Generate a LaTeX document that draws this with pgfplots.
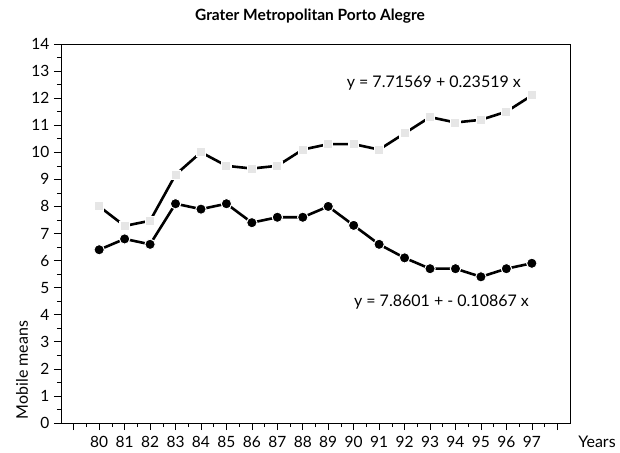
\documentclass[border=0pt]{standalone}
\usepackage{pgfplots}
\pgfplotsset{compat=1.18}
\usepackage{fontspec}
\setmainfont{Lato}
\definecolor{sq}{HTML}{E6E6E6}
\begin{document}
\fontsize{16}{19}\selectfont
\begin{tikzpicture}
\begin{axis}[name=ax,
  scale only axis, width=509pt, height=379pt,
  at={(0,0)}, anchor=south west,
  xmin=78.5, xmax=98.5, ymin=0, ymax=14,
  xtick={79,...,98}, minor xtick={79.5,80.5,...,97.5},
  xticklabels={,80,81,82,83,84,85,86,87,88,89,90,91,92,93,94,95,96,97,},
  ytick={0,...,14}, minor ytick={0.5,1.5,...,13.5},
  tick align=outside, tick pos=left,
  major tick length=7pt, minor tick length=4pt,
  tick style={black, line width=0.6pt},
  axis line style={line width=0.6pt},
  /pgf/number format/assume math mode=true,
  xticklabel style={font=\fontsize{15.5}{18}\selectfont, yshift=-1pt},
  yticklabel style={font=\fontsize{15.5}{18}\selectfont, xshift=1pt},
  clip=false,
]
\addplot[black, line width=2.6pt, mark=square*, mark size=4.6pt,
  mark options={fill=sq, draw=white, line width=1.2pt}] coordinates {
(80,8.0)(81,7.28)(82,7.47)(83,9.17)(84,10.0)(85,9.5)(86,9.4)(87,9.5)(88,10.1)
(89,10.3)(90,10.3)(91,10.1)(92,10.7)(93,11.3)(94,11.1)(95,11.2)(96,11.5)(97,12.1)};
\addplot[black, line width=2.6pt, mark=*, mark size=5.2pt,
  mark options={fill=black, draw=white, line width=1pt}] coordinates {
(80,6.4)(81,6.8)(82,6.6)(83,8.1)(84,7.9)(85,8.1)(86,7.4)(87,7.6)(88,7.6)
(89,8.0)(90,7.3)(91,6.6)(92,6.1)(93,5.7)(94,5.7)(95,5.4)(96,5.7)(97,5.9)};
\node at (axis cs:93.15,12.55) {y = 7.71569 + 0.23519 x};
\node at (axis cs:93.45,4.45) {y = 7.8601 + - 0.10867 x};
\end{axis}
\node[font=\fontsize{15.5}{18}\selectfont\bfseries] at ([shift={(249pt,407pt)}]ax.south west) {Grater Metropolitan Porto Alegre};
\node at ([shift={(536pt,-19pt)}]ax.south west) {Years};
\node[rotate=90] at ([shift={(-39pt,53pt)}]ax.south west) {Mobile means};
\pgfresetboundingbox
\path ([shift={(-61pt,-29pt)}]ax.south west) rectangle ([shift={(559pt,423pt)}]ax.south west);
\end{tikzpicture}
\end{document}
